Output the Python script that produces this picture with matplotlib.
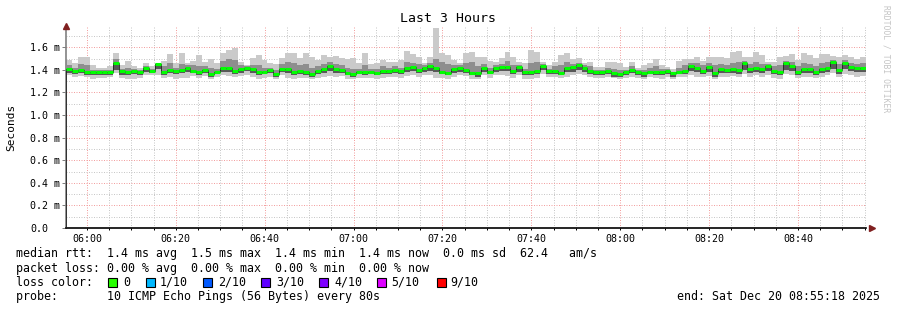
import numpy as np
import matplotlib
matplotlib.use("Agg")
from matplotlib import pyplot as plt
from matplotlib import dates as mdates
from matplotlib.patches import Rectangle
from matplotlib.ticker import MultipleLocator, FixedLocator

# ---- data (ms), one value per 80 s step, 05:55:18 -> 08:55:18 ----
median = [
    1.407, 1.389, 1.398, 1.381, 1.378, 1.378, 1.378, 1.378, 1.457, 1.389, 1.378, 1.389, 1.378, 1.413, 1.392, 1.448, 1.378, 1.398, 1.389, 1.398, 1.419, 1.392,
    1.378, 1.398, 1.363, 1.384, 1.419, 1.419, 1.392, 1.407, 1.419, 1.407, 1.384, 1.384, 1.398, 1.360, 1.407, 1.407, 1.378, 1.389, 1.381, 1.363, 1.389, 1.407, 1.437,
    1.407, 1.398, 1.375, 1.363, 1.384, 1.378, 1.384, 1.375, 1.389, 1.392, 1.398, 1.389, 1.419, 1.428, 1.398, 1.419, 1.434, 1.419, 1.384, 1.375, 1.407, 1.413,
    1.398, 1.375, 1.369, 1.413, 1.384, 1.419, 1.428, 1.428, 1.392, 1.422, 1.384, 1.378, 1.392, 1.434, 1.389, 1.392, 1.375, 1.413, 1.422, 1.440, 1.419, 1.392, 1.378,
    1.378, 1.389, 1.369, 1.363, 1.378, 1.398, 1.378, 1.369, 1.384, 1.378, 1.378, 1.392, 1.369, 1.384, 1.392, 1.437, 1.419, 1.392, 1.422, 1.369, 1.407, 1.398,
    1.404, 1.398, 1.457, 1.404, 1.413, 1.407, 1.434, 1.389, 1.384, 1.457, 1.437, 1.378, 1.410, 1.410, 1.384, 1.404, 1.419, 1.472, 1.398, 1.463, 1.428, 1.413, 1.419,
]
ping_max = [
    1.487, 1.463, 1.510, 1.510, 1.442, 1.419, 1.419, 1.434, 1.546, 1.442, 1.478, 1.434, 1.419, 1.457, 1.434, 1.457, 1.481, 1.540, 1.457, 1.546, 1.457, 1.478,
    1.531, 1.472, 1.493, 1.457, 1.546, 1.575, 1.590, 1.472, 1.442, 1.501, 1.531, 1.487, 1.457, 1.451, 1.501, 1.546, 1.546, 1.501, 1.546, 1.516, 1.487, 1.531, 1.516,
    1.522, 1.501, 1.493, 1.501, 1.457, 1.552, 1.451, 1.457, 1.487, 1.472, 1.472, 1.487, 1.566, 1.540, 1.516, 1.457, 1.510, 1.767, 1.546, 1.531, 1.487, 1.457,
    1.552, 1.560, 1.516, 1.516, 1.481, 1.472, 1.501, 1.560, 1.510, 1.472, 1.457, 1.575, 1.560, 1.472, 1.442, 1.472, 1.531, 1.546, 1.493, 1.501, 1.463, 1.472, 1.428,
    1.428, 1.472, 1.472, 1.463, 1.428, 1.472, 1.413, 1.442, 1.457, 1.493, 1.442, 1.428, 1.404, 1.481, 1.493, 1.493, 1.510, 1.481, 1.516, 1.510, 1.510, 1.501,
    1.555, 1.569, 1.516, 1.510, 1.555, 1.531, 1.472, 1.472, 1.516, 1.522, 1.540, 1.487, 1.546, 1.531, 1.501, 1.540, 1.540, 1.522, 1.510, 1.531, 1.510, 1.493, 1.516,
]
ping_hi = [
    1.44, 1.42, 1.45, 1.44, 1.40, 1.395, 1.395, 1.40, 1.50, 1.41, 1.42, 1.41, 1.40, 1.43, 1.41, 1.455, 1.43, 1.46, 1.42, 1.45, 1.44, 1.44,
    1.43, 1.43, 1.42, 1.41, 1.48, 1.50, 1.49, 1.44, 1.43, 1.44, 1.44, 1.42, 1.42, 1.40, 1.45, 1.47, 1.46, 1.44, 1.45, 1.42, 1.43, 1.45, 1.47,
    1.45, 1.44, 1.42, 1.41, 1.41, 1.44, 1.41, 1.41, 1.43, 1.42, 1.43, 1.42, 1.47, 1.46, 1.45, 1.44, 1.46, 1.50, 1.47, 1.45, 1.44, 1.44,
    1.46, 1.47, 1.43, 1.45, 1.42, 1.44, 1.45, 1.48, 1.44, 1.44, 1.41, 1.46, 1.47, 1.45, 1.41, 1.43, 1.44, 1.47, 1.45, 1.46, 1.44, 1.43, 1.40,
    1.40, 1.42, 1.41, 1.40, 1.40, 1.43, 1.395, 1.40, 1.42, 1.43, 1.41, 1.41, 1.385, 1.42, 1.44, 1.46, 1.46, 1.44, 1.46, 1.44, 1.45, 1.44,
    1.46, 1.47, 1.48, 1.45, 1.47, 1.45, 1.45, 1.43, 1.44, 1.48, 1.47, 1.43, 1.46, 1.45, 1.43, 1.46, 1.47, 1.49, 1.45, 1.49, 1.46, 1.45, 1.46,
]
ping_lo = [
    1.37, 1.36, 1.37, 1.35, 1.35, 1.35, 1.35, 1.35, 1.40, 1.35, 1.35, 1.36, 1.35, 1.38, 1.37, 1.41, 1.35, 1.37, 1.36, 1.37, 1.38, 1.37,
    1.35, 1.37, 1.34, 1.36, 1.38, 1.38, 1.36, 1.37, 1.39, 1.37, 1.35, 1.36, 1.37, 1.34, 1.38, 1.37, 1.35, 1.36, 1.35, 1.34, 1.36, 1.37, 1.39,
    1.37, 1.37, 1.35, 1.34, 1.36, 1.35, 1.36, 1.35, 1.36, 1.36, 1.37, 1.36, 1.38, 1.39, 1.37, 1.38, 1.39, 1.38, 1.36, 1.35, 1.37, 1.38,
    1.37, 1.35, 1.34, 1.38, 1.36, 1.38, 1.39, 1.39, 1.36, 1.38, 1.35, 1.35, 1.36, 1.40, 1.36, 1.36, 1.35, 1.38, 1.38, 1.40, 1.38, 1.36, 1.35,
    1.35, 1.36, 1.34, 1.34, 1.35, 1.37, 1.35, 1.34, 1.36, 1.35, 1.35, 1.36, 1.34, 1.36, 1.36, 1.39, 1.38, 1.36, 1.38, 1.34, 1.37, 1.37,
    1.37, 1.36, 1.40, 1.37, 1.38, 1.37, 1.39, 1.36, 1.35, 1.40, 1.39, 1.35, 1.37, 1.37, 1.35, 1.37, 1.38, 1.41, 1.36, 1.41, 1.39, 1.38, 1.38,
]
ping_min = [
    1.35, 1.34, 1.345, 1.335, 1.32, 1.325, 1.325, 1.335, 1.37, 1.33, 1.32, 1.32, 1.325, 1.355, 1.355, 1.355, 1.325, 1.34, 1.32, 1.325, 1.33, 1.345,
    1.33, 1.345, 1.32, 1.34, 1.35, 1.345, 1.335, 1.345, 1.355, 1.34, 1.32, 1.325, 1.34, 1.32, 1.35, 1.33, 1.32, 1.33, 1.325, 1.32, 1.33, 1.34, 1.345,
    1.34, 1.345, 1.32, 1.315, 1.33, 1.325, 1.33, 1.32, 1.33, 1.335, 1.34, 1.33, 1.345, 1.35, 1.34, 1.35, 1.355, 1.33, 1.33, 1.32, 1.34, 1.35,
    1.345, 1.32, 1.315, 1.35, 1.33, 1.35, 1.355, 1.345, 1.33, 1.35, 1.32, 1.315, 1.33, 1.36, 1.335, 1.335, 1.325, 1.34, 1.35, 1.36, 1.35, 1.335, 1.325,
    1.33, 1.335, 1.325, 1.315, 1.325, 1.34, 1.33, 1.32, 1.335, 1.325, 1.32, 1.335, 1.32, 1.335, 1.34, 1.35, 1.34, 1.335, 1.345, 1.32, 1.34, 1.34,
    1.345, 1.335, 1.36, 1.34, 1.35, 1.34, 1.355, 1.33, 1.32, 1.36, 1.355, 1.325, 1.34, 1.34, 1.325, 1.34, 1.35, 1.37, 1.335, 1.365, 1.35, 1.34, 1.345,
]

start = np.datetime64("2025-12-20T05:55:18")
step_s = 80

y_ticks = [0.0, 0.2, 0.4, 0.6, 0.8, 1.0, 1.2, 1.4, 1.6]
y_labels = ["0.0", "0.2 m", "0.4 m", "0.6 m", "0.8 m", "1.0 m", "1.2 m", "1.4 m", "1.6 m"]

legend_lines = [
    "median rtt:  1.4 ms avg  1.5 ms max  1.4 ms min  1.4 ms now  0.0 ms sd  62.4   am/s",
    "packet loss: 0.00 % avg  0.00 % max  0.00 % min  0.00 % now",
    "loss color:",
    "probe:       10 ICMP Echo Pings (56 Bytes) every 80s",
]
loss_labels = ["0", "1/10", "2/10", "3/10", "4/10", "5/10", "9/10"]
loss_colors = ["#26ff00", "#00b8ff", "#0059ff", "#5e00ff", "#7e00ff", "#dd00ff", "#ff0000"]

plt.rcParams["font.family"] = ["DejaVu Sans Mono"]

W, H = 897, 310
fig = plt.figure(figsize=(W / 100, H / 100), dpi=100)
ax = fig.add_axes([66 / W, 82 / H, 800 / W, 202 / H])


def fx(px):
    return px / W


def fy(py):
    return 1 - py / H


n = len(median)
edges_dt = start + np.arange(n + 1) * np.timedelta64(step_s, "s")
edges = mdates.date2num(edges_dt.astype("datetime64[s]").astype(object))

# smoke
ax.stairs(ping_max, edges, baseline=ping_min, fill=True, color="#cacaca", lw=0, zorder=2)
ax.stairs(ping_hi, edges, baseline=ping_lo, fill=True, color="#8e8e8e", lw=0, zorder=3)
ax.stairs(median, edges, baseline=ping_lo, fill=True, color="#585858", lw=0, zorder=4)
# median
ax.stairs(median, edges, color="#202020", lw=0.6, zorder=5)
ax.hlines(median, edges[:-1], edges[1:], colors="#00ff00", lw=2.2, zorder=6)

ax.set_xlim(edges[0], edges[-1])
ax.set_ylim(0, 1.788)

ax.xaxis.set_major_locator(mdates.MinuteLocator(byminute=[0, 20, 40]))
ax.xaxis.set_minor_locator(mdates.MinuteLocator(byminute=range(0, 60, 5)))
ax.xaxis.set_major_formatter(mdates.DateFormatter("%H:%M"))
ax.yaxis.set_major_locator(FixedLocator(y_ticks))
ax.yaxis.set_minor_locator(MultipleLocator(0.1))
ax.set_yticklabels(y_labels, ha="left")

ax.grid(which="minor", color="#c8c8c8", linestyle=(0, (1, 1.5)), lw=0.72, zorder=1)
ax.grid(which="major", color="#f3a0a0", linestyle=(0, (1, 1.5)), lw=0.72, zorder=1)
ax.set_axisbelow(True)

ax.tick_params(axis="x", which="both", direction="out", length=1.5, width=0.72,
               color="black", labelsize=7.2, pad=3)
ax.tick_params(axis="y", which="major", direction="out", length=3, width=0.72,
               color="#808080", labelsize=7.2, pad=23)
ax.tick_params(axis="y", which="minor", length=0)

for s in ("top", "right"):
    ax.spines[s].set_visible(False)
ax.spines["left"].set_color("#808080")
ax.spines["left"].set_linewidth(1.2)
ax.spines["bottom"].set_color("black")
ax.spines["bottom"].set_linewidth(1.2)

# axis arrows
ax.plot([0], [1.0], marker="^", color="#802020", markersize=4.5, transform=ax.transAxes,
        clip_on=False, zorder=10)
ax.plot([1.007], [0.0], marker=">", color="#802020", markersize=4.5, transform=ax.transAxes,
        clip_on=False, zorder=10)

fig.text(fx(448), fy(19), "Last 3 Hours", ha="center", va="center", fontsize=9.5)
fig.text(fx(11), fy(127), "Seconds", ha="center", va="center", rotation=90, fontsize=8)
fig.text(fx(886), fy(59), "RRDTOOL / TOBI OETIKER", ha="center", va="center",
         rotation=270, fontsize=5.8, color="#c4c4c4")

for i, line in enumerate(legend_lines):
    fig.text(fx(16), fy(254 + 14.2 * i), line, ha="left", va="center", fontsize=8.4)

sw_x = [108, 146, 203, 261, 319, 377, 437]
lab_x = [123, 160, 218, 276, 334, 391, 450]
for sx, lx, lab, c in zip(sw_x, lab_x, loss_labels, loss_colors):
    fig.add_artist(Rectangle((fx(sx), fy(286.5)), 8.5 / W, 8.5 / H, transform=fig.transFigure,
                             facecolor=c, edgecolor="black", lw=0.8))
    fig.text(fx(lx), fy(282.4), lab, ha="left", va="center", fontsize=8.4)

fig.text(fx(880), fy(296.6), "end: Sat Dec 20 08:55:18 2025", ha="right", va="center", fontsize=8.4)

plt.savefig("out.png", dpi=100)
